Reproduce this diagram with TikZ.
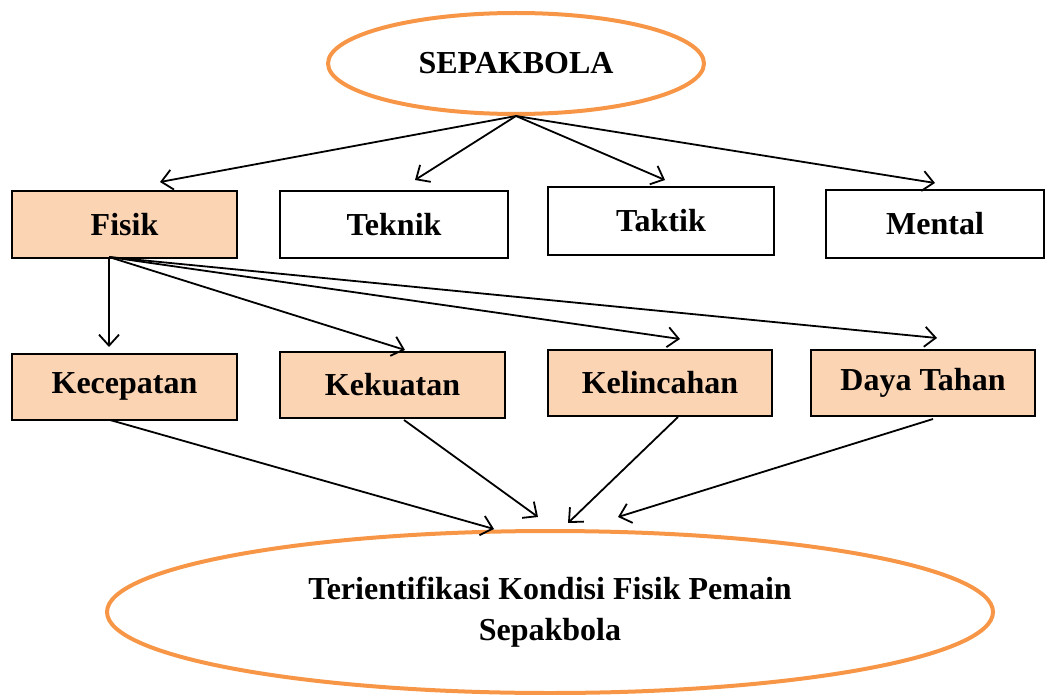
\documentclass[tikz,border=0pt]{standalone}
\usepackage{fontspec}
\setmainfont{Liberation Serif}
\usetikzlibrary{arrows.meta,shapes.geometric}
\definecolor{orng}{HTML}{F79646}
\definecolor{peach}{HTML}{FBD4B4}
\begin{document}
\begin{tikzpicture}[x=1pt,y=-1pt,
  box/.style={draw=black,line width=2pt,minimum height=66pt,inner sep=0pt,
    font=\fontsize{32}{38}\selectfont\bfseries},
  fbox/.style={box,fill=peach},
  oval/.style={ellipse,draw=orng,line width=4pt,inner sep=0pt,align=center,
    font=\fontsize{32}{41}\selectfont\bfseries},
  arr/.style={line width=1.8pt,-{Straight Barb[length=11pt,width=20pt,line width=1.8pt]}}]
\useasboundingbox (0,0) rectangle (1046,695);
% top ellipse
\node[oval,minimum width=376pt,minimum height=101pt] (top) at (516,63.5) {SEPAKBOLA};
% first row
\node[fbox,minimum width=225pt] (fisik) at (124.5,224.5) {Fisik};
\node[box,minimum width=228pt] (teknik) at (394,224.5) {Teknik};
\node[box,minimum width=226pt,minimum height=67pt] (taktik) at (661,221) {Taktik};
\node[box,minimum width=218pt,minimum height=67pt] (mental) at (935,224) {Mental};
% second row
\node[fbox,minimum width=225pt] (kec) at (124.5,386.5) {Kecepatan};
\node[fbox,minimum width=225pt] (kek) at (392.5,384.5) {Kekuatan};
\node[fbox,minimum width=224pt] (kel) at (660,382.5) {Kelincahan};
\node[fbox,minimum width=224pt] (daya) at (923,382.5) {Daya Tahan};
% bottom ellipse
\node[oval,minimum width=886pt,minimum height=162pt] (bot) at (550,612)
  {Terientifikasi Kondisi Fisik Pemain\\Sepakbola};
% coordinates
\coordinate (t1) at (160,182);
\coordinate (t2) at (415,180);
\coordinate (t3) at (665,180);
\coordinate (t4) at (935,183);
\coordinate (fs) at (109,257);
\coordinate (f1) at (109,347);
\coordinate (f2) at (405,350);
\coordinate (f3) at (680,339);
\coordinate (f4) at (937,338);
\coordinate (s1) at (110,420);
\coordinate (s2) at (404,420);
\coordinate (s3) at (678,417);
\coordinate (s4) at (933,419);
\coordinate (e1) at (494,529);
\coordinate (e2) at (538,517);
\coordinate (e3) at (568,523);
\coordinate (e4) at (618,517);
% arrows
\foreach \t in {t1,t2,t3,t4} \draw[arr] (top.south) -- (\t);
\foreach \t in {f1,f2,f3,f4} \draw[arr] (fs) -- (\t);
\draw[arr] (s1) -- (e1);
\draw[arr] (s2) -- (e2);
\draw[arr] (s3) -- (e3);
\draw[arr] (s4) -- (e4);
\end{tikzpicture}
\end{document}
